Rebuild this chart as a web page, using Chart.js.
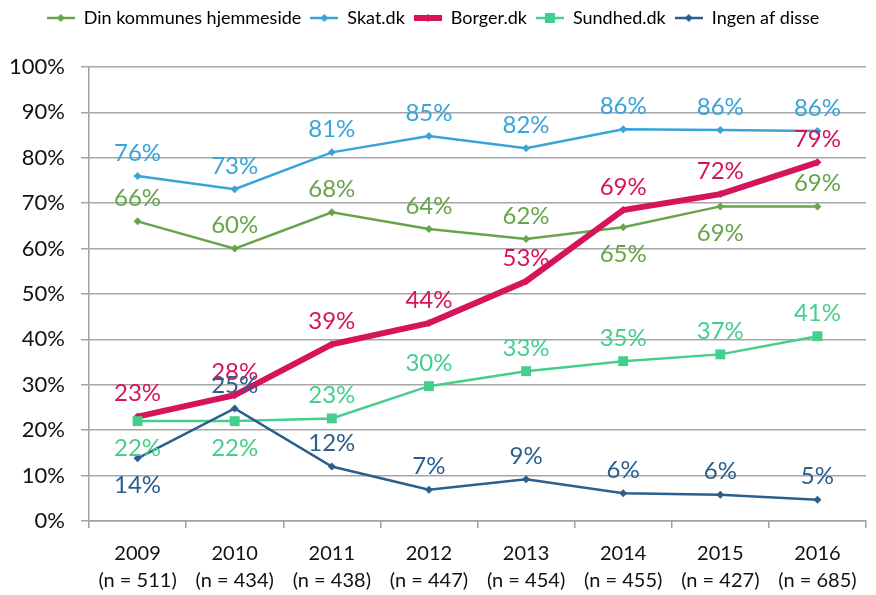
<!DOCTYPE html>
<html>
<head>
<meta charset="utf-8">
<script src="https://cdn.jsdelivr.net/npm/chart.js@4.4.1/dist/chart.umd.min.js"></script>
<style>
  html, body { margin: 0; padding: 0; background: #fff; }
  #wrap { width: 876px; height: 595px; }
</style>
</head>
<body>
<div id="wrap"><canvas id="chart"></canvas></div>
<script>
/* ---- data ---- */
const years = ['2009', '2010', '2011', '2012', '2013', '2014', '2015', '2016'];
const sampleSizes = ['511', '434', '438', '447', '454', '455', '427', '685'];

const seriesNames = ['Din kommunes hjemmeside', 'Skat.dk', 'Borger.dk', 'Sundhed.dk', 'Ingen af disse'];
const dinKommune = [66, 60, 68, 64.3, 62.1, 64.7, 69.3, 69.3];
const skat       = [76, 73.1, 81.2, 84.8, 82.1, 86.3, 86.1, 85.9];
const borger     = [23, 27.7, 38.9, 43.6, 52.8, 68.5, 72, 79];
const sundhed    = [22, 22, 22.6, 29.7, 33, 35.2, 36.7, 40.7];
const ingen      = [13.8, 24.8, 12, 6.9, 9.2, 6.1, 5.8, 4.7];

const yTicks = [0, 10, 20, 30, 40, 50, 60, 70, 80, 90, 100];

// hvor labels sidder: a = over punktet, b = under
const dinPos     = ['a', 'a', 'a', 'a', 'a', 'b', 'b', 'a'];
const skatPos    = ['a', 'a', 'a', 'a', 'a', 'a', 'a', 'a'];
const borgerPos  = ['a', 'a', 'a', 'a', 'a', 'a', 'a', 'a'];
const sundhedPos = ['b', 'b', 'a', 'a', 'a', 'a', 'a', 'a'];
const ingenPos   = ['b', 'a', 'a', 'a', 'a', 'a', 'a', 'a'];

/* ---- styling ---- */
const FONT = 'Lato, "Open Sans", sans-serif';
const colors = ['#67a44a', '#38a4d8', '#d6145b', '#45cf8d', '#2a5f8e'];

// lille legend-ikon: linje + markør
function legendIcon(color, width, marker) {
  const c = document.createElement('canvas');
  c.width = 28; c.height = 14;
  const g = c.getContext('2d');
  g.strokeStyle = color;
  g.lineWidth = width;
  g.beginPath(); g.moveTo(0, 7); g.lineTo(28, 7); g.stroke();
  g.fillStyle = color;
  if (marker === 'square') {
    g.fillRect(9, 2, 10, 10);
  } else {
    g.beginPath(); g.moveTo(14, 3); g.lineTo(18, 7); g.lineTo(14, 11); g.lineTo(10, 7); g.closePath(); g.fill();
  }
  return c;
}

function makeSet(i, data, pos, lw, style, radius) {
  return {
    label: seriesNames[i],
    data: data,
    labelPos: pos,
    borderColor: colors[i],
    backgroundColor: colors[i],
    borderWidth: lw,
    pointStyle: style,
    pointRadius: radius,
    pointBorderWidth: 0,
    pointHoverRadius: radius,
    tension: 0,
    order: 4 - i,
    icon: legendIcon(colors[i], lw, style === 'rect' ? 'square' : 'diamond')
  };
}

const datasets = [
  makeSet(0, dinKommune, dinPos, 2.5, 'rectRot', 4),
  makeSet(1, skat, skatPos, 2.5, 'rectRot', 4),
  makeSet(2, borger, borgerPos, 6, 'rectRot', 4),
  makeSet(3, sundhed, sundhedPos, 2.5, 'rect', 7),
  makeSet(4, ingen, ingenPos, 2.5, 'rectRot', 4)
];

// procent-labels ved punkterne
const pctLabels = {
  id: 'pctLabels',
  afterDatasetsDraw(chart) {
    const ctx = chart.ctx;
    ctx.save();
    ctx.font = '24px ' + FONT;
    ctx.textAlign = 'center';
    ctx.textBaseline = 'middle';
    chart.data.datasets.forEach((ds, i) => {
      const meta = chart.getDatasetMeta(i);
      meta.data.forEach((pt, j) => {
        const dy = ds.labelPos[j] === 'b' ? 27 : -23;
        ctx.fillStyle = ds.borderColor;
        ctx.fillText(Math.round(ds.data[j]) + '%', pt.x, pt.y + dy);
      });
    });
    ctx.restore();
  }
};

// ekstra luft under legenden
const legendGap = {
  id: 'legendGap',
  beforeInit(chart) {
    const fit = chart.legend.fit;
    chart.legend.fit = function () {
      fit.call(this);
      this.height += 30;
    };
  }
};

new Chart(document.getElementById('chart'), {
  type: 'line',
  data: {
    labels: years.map((y, i) => [y, '(n = ' + sampleSizes[i] + ')']),
    datasets: datasets
  },
  plugins: [pctLabels, legendGap],
  options: {
    responsive: true,
    maintainAspectRatio: false,
    animation: false,
    layout: { padding: { left: 0, right: 10, top: 0, bottom: 0 } },
    plugins: {
      tooltip: { enabled: false },
      legend: {
        position: 'top',
        labels: {
          font: { family: FONT, size: 18 },
          color: '#000',
          usePointStyle: true,
          pointStyleWidth: 28,
          padding: 9,
          generateLabels: chart => chart.data.datasets.map((ds, i) => ({
            text: ds.label,
            pointStyle: ds.icon,
            fillStyle: ds.borderColor,
            strokeStyle: ds.borderColor,
            lineWidth: 0,
            fontColor: '#000',
            datasetIndex: i
          }))
        }
      }
    },
    scales: {
      x: {
        offset: true,
        afterFit: s => { s.height = 74; },
        grid: { offset: true, drawOnChartArea: false, drawTicks: true, tickLength: 7, color: '#a0a0a0', lineWidth: 1.5 },
        border: { color: '#a0a0a0', width: 1.5 },
        ticks: { font: { family: FONT, size: 20, lineHeight: 1.35 }, color: '#111', padding: 12, maxRotation: 0, autoSkip: false }
      },
      y: {
        min: 0,
        max: 100,
        afterBuildTicks: s => { s.ticks = yTicks.map(v => ({ value: v })); },
        afterFit: s => { s.width = 89; },
        grid: { color: '#a6a6a6', lineWidth: 1.5, drawTicks: true, tickLength: 8 },
        border: { color: '#a0a0a0', width: 1.5 },
        ticks: { font: { family: FONT, size: 22 }, color: '#111', padding: 16, callback: v => v + '%' }
      }
    }
  }
});
</script>
</body>
</html>
